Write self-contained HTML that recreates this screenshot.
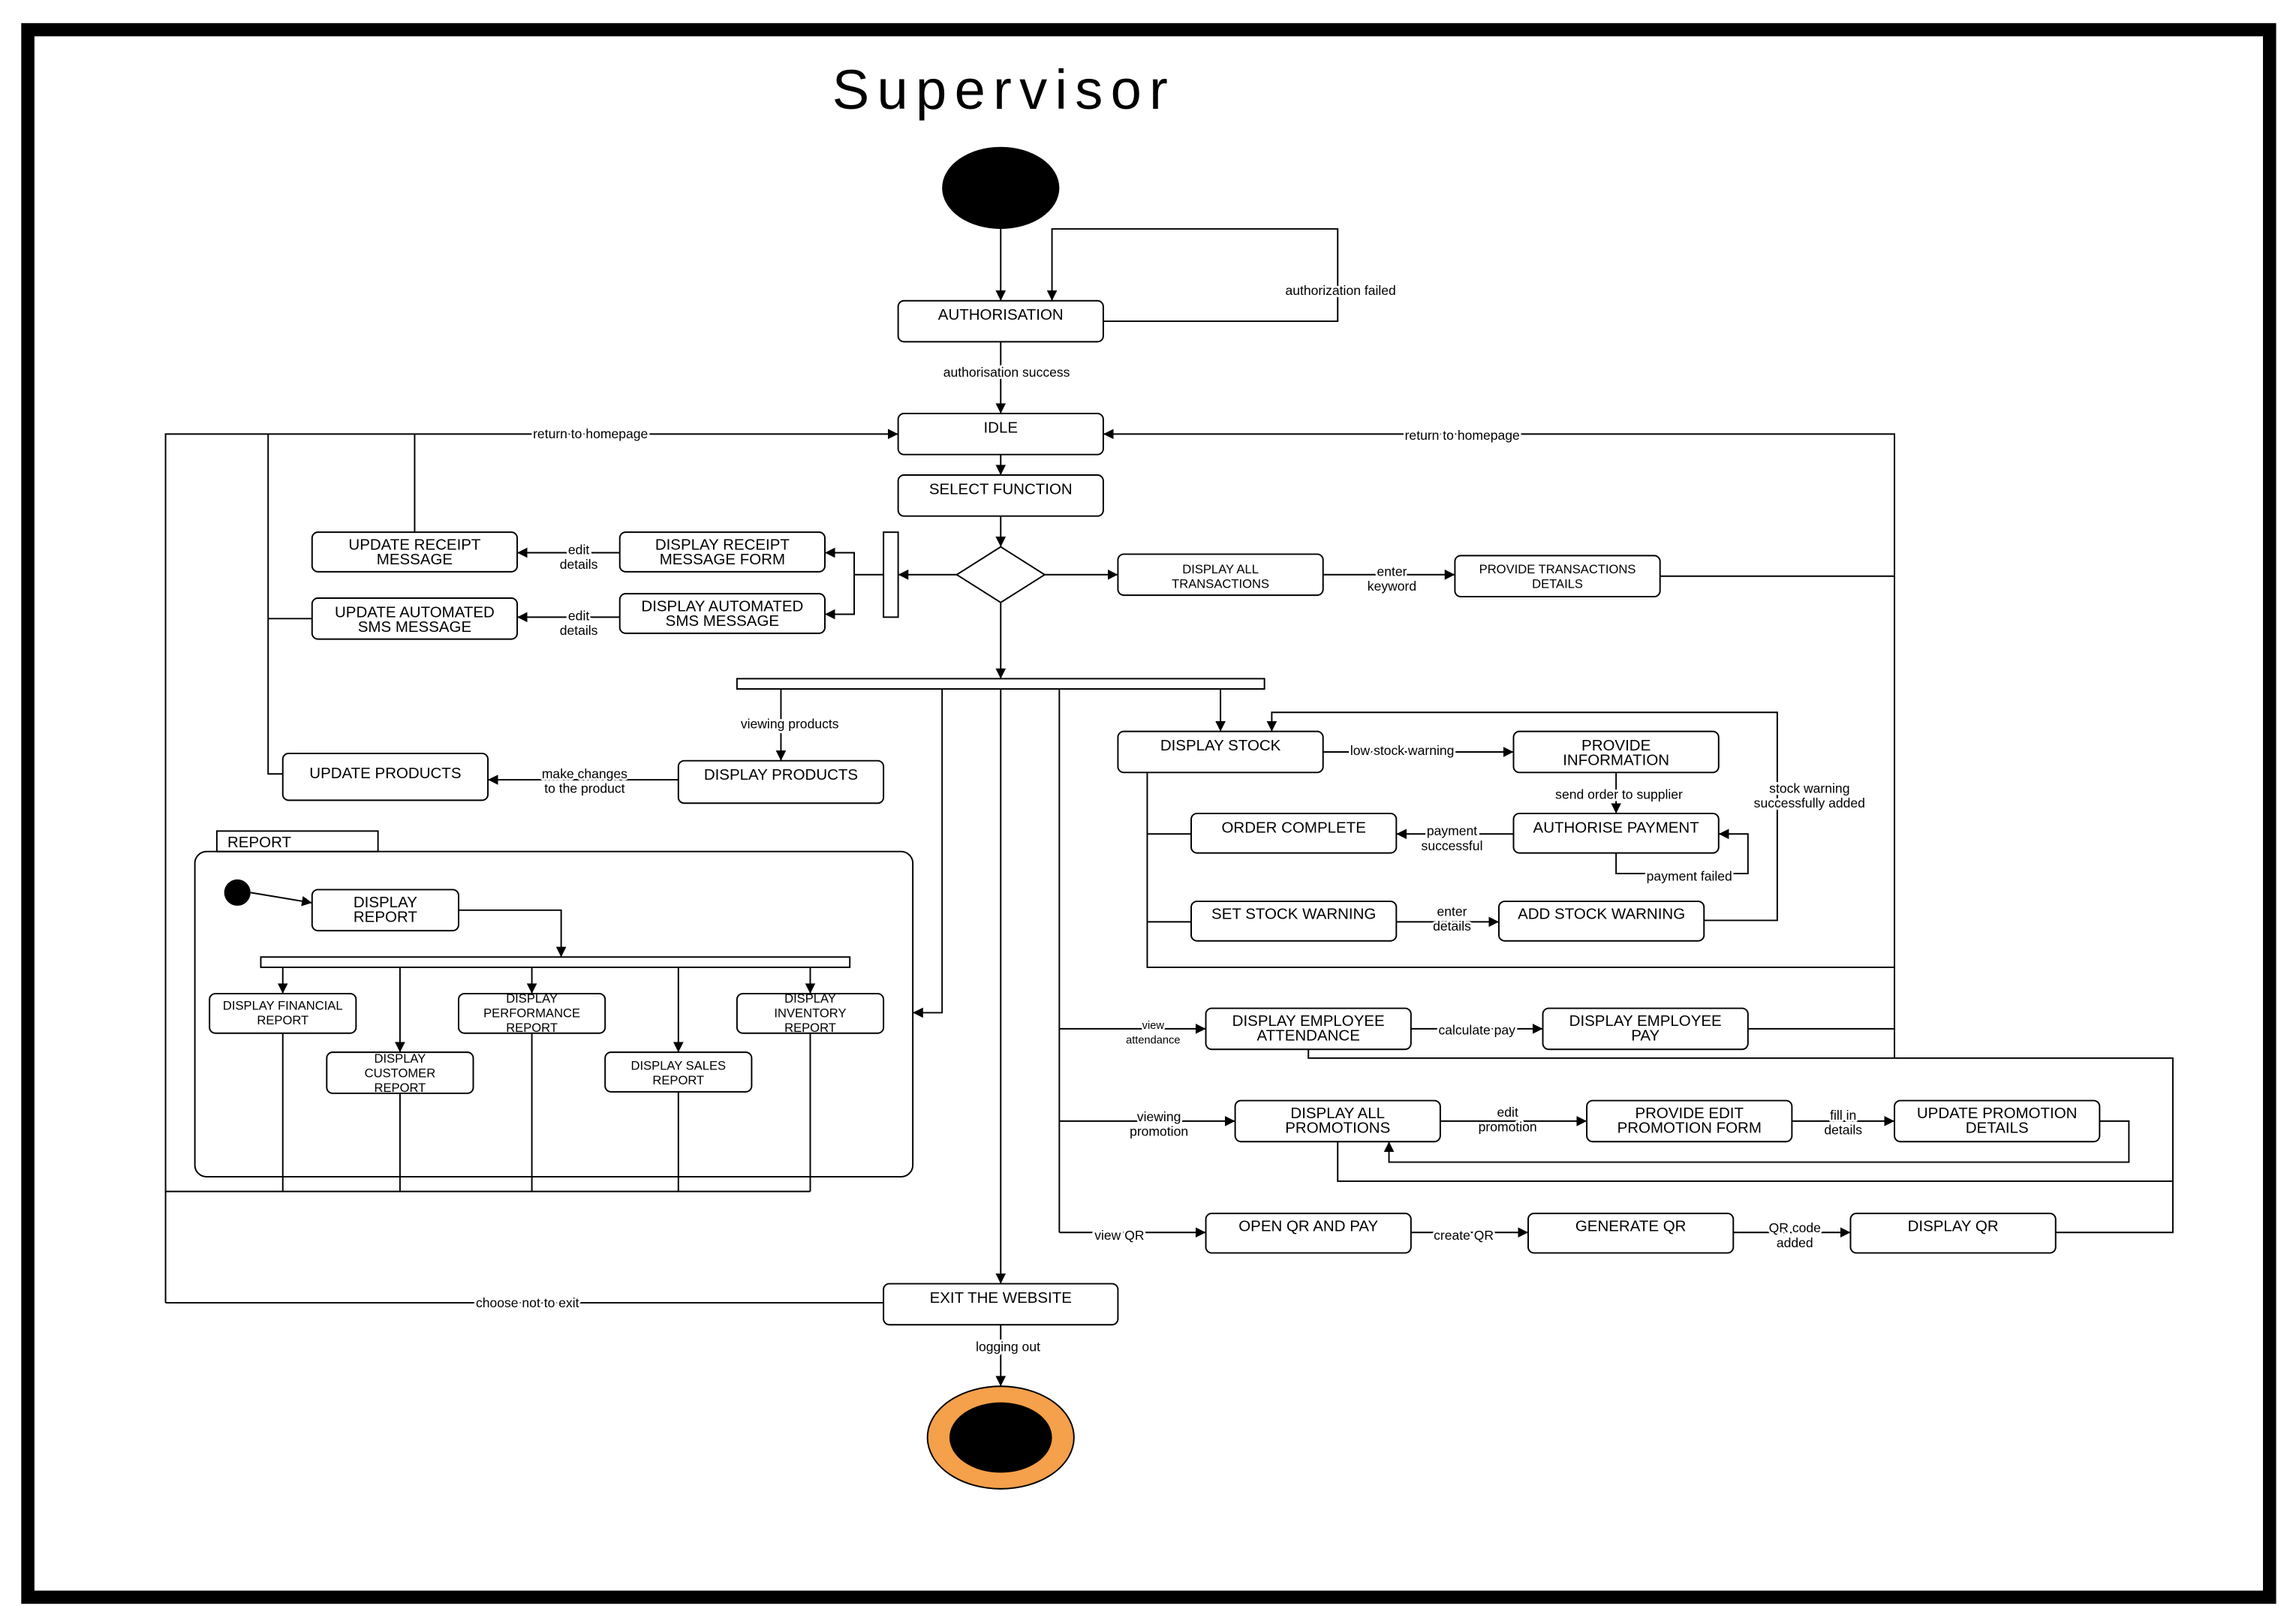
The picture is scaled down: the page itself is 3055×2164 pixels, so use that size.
<!DOCTYPE html>
<html><head><meta charset="utf-8"><style>
html,body{margin:0;padding:0;background:#fff}
svg{display:block}
text{font-family:"Liberation Sans",sans-serif;fill:#000}
.b{font-size:10.5px;text-anchor:middle}
.s{font-size:8.5px;text-anchor:middle}
.l{font-size:9px;text-anchor:middle}
.l text{stroke:#fff;stroke-width:3;paint-order:stroke;stroke-linejoin:round}
</style></head><body>
<svg width="3055" height="2164" viewBox="0 0 1565 1108" xmlns="http://www.w3.org/2000/svg">
<defs><marker id="a" markerWidth="8" markerHeight="8" refX="7" refY="4" orient="auto" markerUnits="userSpaceOnUse"><path d="M0,0.5 L7,4 L0,7.5 Z" fill="#000"/></marker></defs>
<rect x="0" y="0" width="1565" height="1108" fill="#fff"/>
<rect x="19" y="20" width="1530" height="1070" fill="none" stroke="#000" stroke-width="9"/>
<text x="568" y="74" font-size="38" textLength="229" lengthAdjust="spacing">Supervisor</text>
<ellipse cx="683" cy="128" rx="40" ry="28" fill="#000"/>
<g fill="none" stroke="#000" stroke-width="1">
<path d="M683,156 V205" marker-end="url(#a)"/>
<path d="M753,219 H913 V156 H718 V205" marker-end="url(#a)"/>
<path d="M683,233 V282" marker-end="url(#a)"/>
<path d="M683,310 V324" marker-end="url(#a)"/>
<path d="M683,352 V373" marker-end="url(#a)"/>
<path d="M653,392 H613" marker-end="url(#a)"/>
<path d="M603,392 H583 V377 H563" marker-end="url(#a)"/>
<path d="M583,392 V419 H563" marker-end="url(#a)"/>
<path d="M423,377 H353" marker-end="url(#a)"/>
<path d="M423,421 H353" marker-end="url(#a)"/>
<path d="M113,889 V296 H613" marker-end="url(#a)"/>
<path d="M183,296 V528 H193"/>
<path d="M183,422 H213"/>
<path d="M283,296 V363"/>
<path d="M713,392 H763" marker-end="url(#a)"/>
<path d="M903,392 H993" marker-end="url(#a)"/>
<path d="M1133,393 H1293"/>
<path d="M1293,722 V296 H753" marker-end="url(#a)"/>
<path d="M683,411 V463" marker-end="url(#a)"/>
<path d="M533,470 V519" marker-end="url(#a)"/>
<path d="M643,470 V691 H623" marker-end="url(#a)"/>
<path d="M683,470 V876" marker-end="url(#a)"/>
<path d="M723,470 V841"/>
<path d="M833,470 V499" marker-end="url(#a)"/>
<path d="M463,532 H333" marker-end="url(#a)"/>
<path d="M171,609 L213,616" marker-end="url(#a)"/>
<path d="M313,621 H383 V653" marker-end="url(#a)"/>
<path d="M193,660 V678" marker-end="url(#a)"/>
<path d="M273,660 V718" marker-end="url(#a)"/>
<path d="M363,660 V678" marker-end="url(#a)"/>
<path d="M463,660 V718" marker-end="url(#a)"/>
<path d="M553,660 V678" marker-end="url(#a)"/>
<path d="M193,705 V813 M273,746 V813 M363,705 V813 M463,745 V813 M553,705 V813 M113,813 H553"/>
<path d="M603,889 H113"/>
<path d="M683,904 V946" marker-end="url(#a)"/>
<path d="M903,513 H1033" marker-end="url(#a)"/>
<path d="M1103,527 V555" marker-end="url(#a)"/>
<path d="M1103,582 V596 H1193 V569 H1173" marker-end="url(#a)"/>
<path d="M1033,569 H953" marker-end="url(#a)"/>
<path d="M953,629 H1023" marker-end="url(#a)"/>
<path d="M1163,628 H1213 V486 H868 V499" marker-end="url(#a)"/>
<path d="M783,527 V660 H1293 M783,569 H813 M783,629 H813"/>
<path d="M723,702 H823" marker-end="url(#a)"/>
<path d="M963,702 H1053" marker-end="url(#a)"/>
<path d="M1193,702 H1293"/>
<path d="M893,716 V722 H1483 V841 H1403"/>
<path d="M723,765 H843" marker-end="url(#a)"/>
<path d="M983,765 H1083" marker-end="url(#a)"/>
<path d="M1223,765 H1293" marker-end="url(#a)"/>
<path d="M1433,765 H1453 V793 H948 V779" marker-end="url(#a)"/>
<path d="M913,779 V806 H1483"/>
<path d="M723,841 H823" marker-end="url(#a)"/>
<path d="M963,841 H1043" marker-end="url(#a)"/>
<path d="M1183,841 H1263" marker-end="url(#a)"/>
<polygon points="683,373 713,392 683,411 653,392" fill="#fff"/>
<rect x="603" y="363" width="10" height="58" fill="#fff"/>
<rect x="503" y="463" width="360" height="7" fill="#fff"/>
<rect x="178" y="653" width="402" height="7" fill="#fff"/>
<rect x="148" y="567" width="110" height="14" fill="#fff"/>
<rect x="133" y="581" width="490" height="222" rx="8" />
</g>
<g fill="#fff" stroke="#000" stroke-width="1">
<rect x="613" y="205" width="140" height="28" rx="4"/>
<rect x="613" y="282" width="140" height="28" rx="4"/>
<rect x="613" y="324" width="140" height="28" rx="4"/>
<rect x="423" y="363" width="140" height="27" rx="4"/>
<rect x="423" y="405" width="140" height="27" rx="4"/>
<rect x="213" y="363" width="140" height="27" rx="4"/>
<rect x="213" y="408" width="140" height="28" rx="4"/>
<rect x="763" y="378" width="140" height="28" rx="4"/>
<rect x="993" y="379" width="140" height="28" rx="4"/>
<rect x="463" y="519" width="140" height="29" rx="4"/>
<rect x="193" y="514" width="140" height="32" rx="4"/>
<rect x="213" y="607" width="100" height="28" rx="4"/>
<rect x="143" y="678" width="100" height="27" rx="4"/>
<rect x="223" y="718" width="100" height="28" rx="4"/>
<rect x="313" y="678" width="100" height="27" rx="4"/>
<rect x="413" y="718" width="100" height="27" rx="4"/>
<rect x="503" y="678" width="100" height="27" rx="4"/>
<rect x="603" y="876" width="160" height="28" rx="4"/>
<rect x="763" y="499" width="140" height="28" rx="4"/>
<rect x="1033" y="499" width="140" height="28" rx="4"/>
<rect x="1033" y="555" width="140" height="27" rx="4"/>
<rect x="813" y="555" width="140" height="27" rx="4"/>
<rect x="813" y="615" width="140" height="27" rx="4"/>
<rect x="1023" y="615" width="140" height="27" rx="4"/>
<rect x="823" y="688" width="140" height="28" rx="4"/>
<rect x="1053" y="688" width="140" height="28" rx="4"/>
<rect x="843" y="751" width="140" height="28" rx="4"/>
<rect x="1083" y="751" width="140" height="28" rx="4"/>
<rect x="1293" y="751" width="140" height="28" rx="4"/>
<rect x="823" y="828" width="140" height="27" rx="4"/>
<rect x="1043" y="828" width="140" height="27" rx="4"/>
<rect x="1263" y="828" width="140" height="27" rx="4"/>
</g>
<circle cx="162" cy="609" r="9" fill="#000"/>
<ellipse cx="683" cy="981" rx="50" ry="35" fill="#f5a04a" stroke="#000"/>
<ellipse cx="683" cy="981" rx="35" ry="24" fill="#000"/>
<g class="b">
<text x="683" y="218">AUTHORISATION</text>
<text x="683" y="295">IDLE</text>
<text x="683" y="337">SELECT FUNCTION</text>
<text x="493" y="375">DISPLAY RECEIPT</text><text x="493" y="385">MESSAGE FORM</text>
<text x="493" y="417">DISPLAY AUTOMATED</text><text x="493" y="427">SMS MESSAGE</text>
<text x="283" y="375">UPDATE RECEIPT</text><text x="283" y="385">MESSAGE</text>
<text x="283" y="421">UPDATE AUTOMATED</text><text x="283" y="431">SMS MESSAGE</text>
<text x="533" y="532">DISPLAY PRODUCTS</text>
<text x="263" y="531">UPDATE PRODUCTS</text>
<text x="263" y="619">DISPLAY</text><text x="263" y="629">REPORT</text>
<text x="683" y="889">EXIT THE WEBSITE</text>
<text x="833" y="512">DISPLAY STOCK</text>
<text x="1103" y="512">PROVIDE</text><text x="1103" y="522">INFORMATION</text>
<text x="1103" y="568">AUTHORISE PAYMENT</text>
<text x="883" y="568">ORDER COMPLETE</text>
<text x="883" y="627">SET STOCK WARNING</text>
<text x="1093" y="627">ADD STOCK WARNING</text>
<text x="893" y="700">DISPLAY EMPLOYEE</text><text x="893" y="710">ATTENDANCE</text>
<text x="1123" y="700">DISPLAY EMPLOYEE</text><text x="1123" y="710">PAY</text>
<text x="913" y="763">DISPLAY ALL</text><text x="913" y="773">PROMOTIONS</text>
<text x="1153" y="763">PROVIDE EDIT</text><text x="1153" y="773">PROMOTION FORM</text>
<text x="1363" y="763">UPDATE PROMOTION</text><text x="1363" y="773">DETAILS</text>
<text x="893" y="840">OPEN QR AND PAY</text>
<text x="1113" y="840">GENERATE QR</text>
<text x="1333" y="840">DISPLAY QR</text>
<text x="177" y="578" text-anchor="middle">REPORT</text>
</g>
<g class="s">
<text x="833" y="391">DISPLAY ALL</text><text x="833" y="401">TRANSACTIONS</text>
<text x="1063" y="391">PROVIDE TRANSACTIONS</text><text x="1063" y="401">DETAILS</text>
<text x="193" y="689">DISPLAY FINANCIAL</text><text x="193" y="699">REPORT</text>
<text x="273" y="725">DISPLAY</text><text x="273" y="735">CUSTOMER</text><text x="273" y="745">REPORT</text>
<text x="363" y="684">DISPLAY</text><text x="363" y="694">PERFORMANCE</text><text x="363" y="704">REPORT</text>
<text x="463" y="730">DISPLAY SALES</text><text x="463" y="740">REPORT</text>
<text x="553" y="684">DISPLAY</text><text x="553" y="694">INVENTORY</text><text x="553" y="704">REPORT</text>
</g>
<g class="l">
<text x="915" y="201">authorization failed</text>
<text x="687" y="257">authorisation success</text>
<text x="403" y="299">return to homepage</text>
<text x="998" y="300">return to homepage</text>
<text x="395" y="378">edit</text><text x="395" y="388">details</text>
<text x="395" y="423">edit</text><text x="395" y="433">details</text>
<text x="950" y="393">enter</text><text x="950" y="403">keyword</text>
<text x="539" y="497">viewing products</text>
<text x="399" y="531">make changes</text><text x="399" y="541">to the product</text>
<text x="360" y="892">choose not to exit</text>
<text x="688" y="922">logging out</text>
<text x="957" y="515">low stock warning</text>
<text x="1105" y="545">send order to supplier</text>
<text x="1153" y="601">payment failed</text>
<text x="991" y="570">payment</text><text x="991" y="580">successful</text>
<text x="991" y="625">enter</text><text x="991" y="635">details</text>
<text x="1235" y="541">stock warning</text><text x="1235" y="551">successfully added</text>
<text x="787" y="702" font-size="7.5">view</text><text x="787" y="712" font-size="7.5">attendance</text>
<text x="1008" y="706">calculate pay</text>
<text x="791" y="765">viewing</text><text x="791" y="775">promotion</text>
<text x="1029" y="762">edit</text><text x="1029" y="772">promotion</text>
<text x="1258" y="764">fill in</text><text x="1258" y="774">details</text>
<text x="764" y="846">view QR</text>
<text x="999" y="846">create QR</text>
<text x="1225" y="841">QR code</text><text x="1225" y="851">added</text>
</g>
</svg>
</body></html>
